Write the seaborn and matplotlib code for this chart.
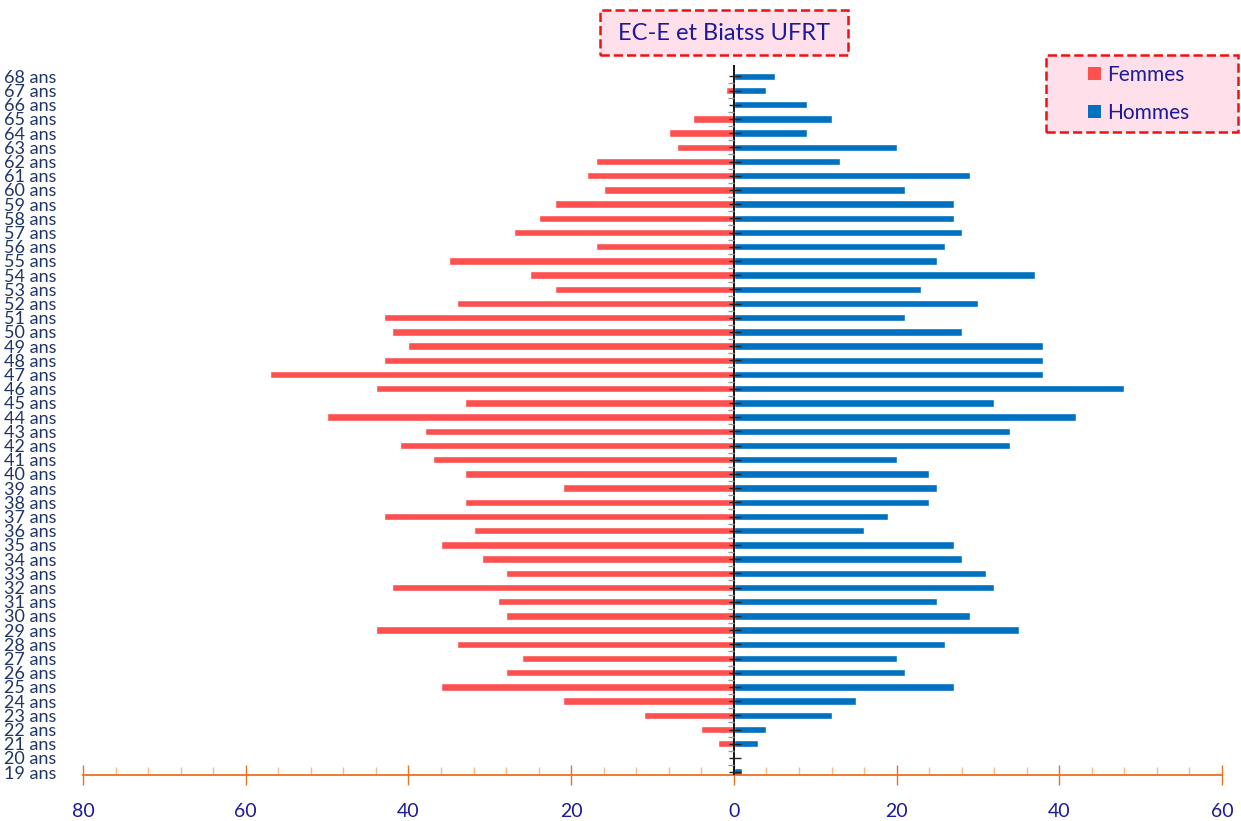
import numpy as np
import pandas as pd
import matplotlib
matplotlib.use("Agg")
import matplotlib.pyplot as plt
from matplotlib.patches import Patch, Rectangle
import seaborn as sns

# ages from 19 to 68 (bottom to top)
ages = list(range(19, 69))
femmes = [0, 0, 2, 4, 11, 21, 36, 28, 26, 34,
          44, 28, 29, 42, 28, 31, 36, 32, 43, 33,
          21, 33, 37, 41, 38, 50, 33, 44, 57, 43,
          40, 42, 43, 34, 22, 25, 35, 17, 27, 24,
          22, 16, 18, 17, 7, 8, 5, 0, 1, 0]
hommes = [1, 0, 3, 4, 12, 15, 27, 21, 20, 26,
          35, 29, 25, 32, 31, 28, 27, 16, 19, 24,
          25, 24, 20, 34, 34, 42, 32, 48, 38, 38,
          38, 28, 21, 30, 23, 37, 25, 26, 28, 27,
          27, 21, 29, 13, 20, 9, 12, 9, 4, 5]
series = ["Femmes", "Hommes"]
x_ticks = [-80, -60, -40, -20, 0, 20, 40, 60]

age_labels = [f"{a} ans" for a in ages]
df = pd.DataFrame({
    "Age": age_labels * 2,
    "Sexe": [series[0]] * len(ages) + [series[1]] * len(ages),
    "Valeur": [-v for v in femmes] + hommes,
})

sns.set_theme(style="white")
plt.rcParams["font.family"] = ["Lato", "DejaVu Sans"]

col_f = "#FF5050"
col_h = "#0070C0"
navy = "#1F3468"
blue_txt = "#1A1A9A"
orange = "#F07020"
pink = "#FFE0EA"
red = "#EE1111"

W, H = 1241, 821
fig = plt.figure(figsize=(W / 100, H / 100), dpi=100)
ax = fig.add_axes([0.0669, 0.056, 0.9178, 0.8648])

order = age_labels[::-1]
sns.barplot(data=df, x="Valeur", y="Age", hue="Sexe", order=order,
            hue_order=series, palette=[col_f, col_h], dodge=False,
            orient="h", width=0.52, saturation=1, legend=False, ax=ax)

ax.set_xlim(-80, 60)
ax.set_ylim(len(ages) - 0.8, -0.8)
ax.set_xlabel("")
ax.set_ylabel("")

# center line with little ticks
ax.axvline(0, color="black", lw=1.3, zorder=3)
rows = np.arange(len(ages))
ax.plot(np.zeros(len(rows)) + 0.1, rows, ls="none", marker="_", ms=9,
        mew=1.0, color="#222222", zorder=4)
ax.plot(np.zeros(len(rows)) - 0.35, rows + 0.5, ls="none", marker="_", ms=5,
        mew=1.0, color="#999999", zorder=4)

# y labels on the left
ax.tick_params(axis="y", left=False, length=0, pad=19, labelsize=13,
               labelcolor=navy)

# bottom axis in orange
for s in ["top", "right", "left"]:
    ax.spines[s].set_visible(False)
ax.spines["bottom"].set_color(orange)
ax.spines["bottom"].set_linewidth(1.3)
ax.set_xticks(x_ticks)
ax.set_xticklabels([str(abs(t)) for t in x_ticks])
ax.set_xticks(np.arange(-80, 61, 4), minor=True)
ax.tick_params(axis="x", which="major", bottom=True, direction="inout",
               length=14, width=1.0, color=orange, labelsize=14,
               labelcolor=blue_txt, pad=13)
ax.tick_params(axis="x", which="minor", bottom=True, direction="in",
               length=6, width=1.0, color="#F8B888")
ax.grid(False)

# title in a dashed box
fig.patches.append(Rectangle((600 / W, 1 - 55 / H), 248 / W, 45 / H,
                             transform=fig.transFigure, facecolor=pink,
                             edgecolor=red, linestyle="--", linewidth=1.8))
fig.text(724 / W, 1 - 33 / H, "EC-E et Biatss UFRT", ha="center",
         va="center", fontsize=17, color=blue_txt)

# legend in a dashed box
fig.patches.append(Rectangle((1046 / W, 1 - 132 / H), 192 / W, 77 / H,
                             transform=fig.transFigure, facecolor=pink,
                             edgecolor=red, linestyle="--", linewidth=1.8))
handles = [Patch(facecolor=c, edgecolor="none") for c in [col_f, col_h]]
fig.legend(handles, series, loc="upper left",
           bbox_to_anchor=(1088 / W, 1 - 65 / H), fontsize=15,
           handlelength=0.6, handleheight=0.6, handletextpad=0.3,
           labelspacing=0.85, borderpad=0, borderaxespad=0,
           frameon=False, labelcolor=blue_txt)

fig.savefig("out.png", dpi=100)
